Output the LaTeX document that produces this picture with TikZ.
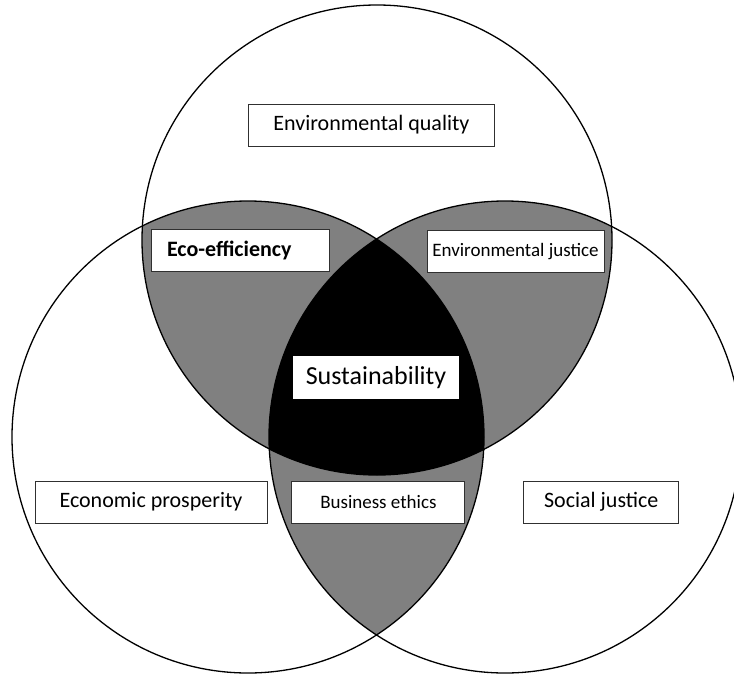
\documentclass[tikz,border=0pt]{standalone}
\usepackage{fontspec}
\setmainfont{Carlito}
\usepackage{tikz}
\usetikzlibrary{positioning}
\definecolor{venngray}{HTML}{808080}
\definecolor{boxline}{HTML}{303030}

\begin{document}
\begin{tikzpicture}[
    x=1pt, y=-1pt,
    ring/.style={draw=black, line width=1.3pt},
    box/.style={draw=boxline, fill=white, line width=0.9pt, minimum height=42pt,
                inner sep=2pt, text centered, font=\fontsize{22}{26}\selectfont},
    smallbox/.style={box, font=\fontsize{19}{23}\selectfont},
  ]
  \useasboundingbox (0,0) rectangle (734,675);

  % Circle centres
  \coordinate (ctop) at (377,240);
  \coordinate (cleft) at (248,437);
  \coordinate (cright) at (505,437);

  % Pairwise overlaps
  \begin{scope}
    \clip (ctop) circle[radius=235pt];
    \fill[venngray] (cleft) circle[radius=236pt];
    \fill[venngray] (cright) circle[radius=236pt];
  \end{scope}
  \begin{scope}
    \clip (cleft) circle[radius=236pt];
    \fill[venngray] (cright) circle[radius=236pt];
  \end{scope}

  % Triple overlap
  \begin{scope}
    \clip (ctop) circle[radius=235pt];
    \clip (cleft) circle[radius=236pt];
    \fill[black] (cright) circle[radius=236pt];
  \end{scope}

  % Outlines
  \draw[ring] (ctop) circle[radius=235pt];
  \draw[ring] (cleft) circle[radius=236pt];
  \draw[ring] (cright) circle[radius=236pt];

  % Labels
  \node[box, minimum width=246pt] (envq) at (371.5,125) {Environmental quality};
  \node[box, minimum width=178pt, text width=146pt, align=left, inner xsep=16pt,
        font=\fontsize{22}{26}\selectfont\bfseries] (ecoeff) at (240,250.5) {Eco-efficiency};
  \node[smallbox, minimum width=177pt] (envj) at (515.5,251.5) {Environmental justice};
  \node[box, draw=none, minimum width=166pt, minimum height=43pt,
        font=\fontsize{26}{30}\selectfont] (sust) at (376,377.5) {Sustainability};

  \node[box, minimum width=232pt] (econ) at (151,502) {Economic prosperity};
  \node[smallbox, minimum width=173pt, right=24pt of econ] (ethics) {Business ethics};
  \node[box, minimum width=155pt, right=58pt of ethics] (social) {Social justice};

\end{tikzpicture}
\end{document}
